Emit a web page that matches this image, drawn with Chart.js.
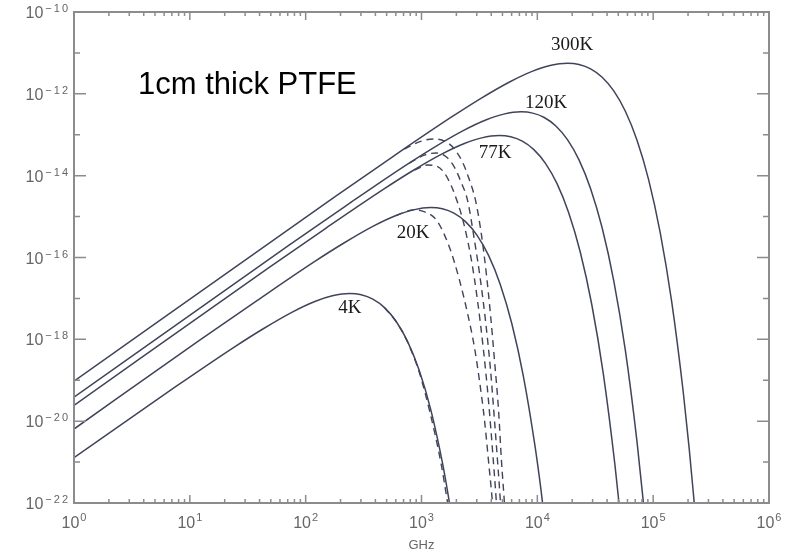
<!DOCTYPE html>
<html>
<head>
<meta charset="utf-8">
<style>
  html, body { margin: 0; padding: 0; background: #fff; }
  #wrap { width: 798px; height: 554px; }
</style>
<script src="https://cdn.jsdelivr.net/npm/chart.js@4.4.0/dist/chart.umd.min.js"></script>
</head>
<body>
<div id="wrap"><canvas id="c" width="798" height="554"></canvas></div>
<script>
// frequency in GHz, emitted power
const ghz300 = [1, 182, 575, 1820, 3236, 5754, 9120, 12880, 18200, 22900, 28840, 36300, 45700, 57540, 72440, 91200, 114800, 144500, 182000, 204200, 229100];
const pow300 = [9.55e-20, 3.16e-15, 3.02e-14, 2.72e-13, 7.66e-13, 1.95e-12, 3.59e-12, 4.94e-12, 5.62e-12, 5.24e-12, 4.09e-12, 2.55e-12, 1.18e-12, 3.76e-13, 7.45e-14, 8.13e-15, 4.18e-16, 8.32e-18, 5.01e-20, 2.29e-21, 6.76e-23];

const ghz120 = [1, 72.4, 229, 724, 1288, 2291, 3631, 5129, 7244, 9120, 11480, 14450, 18200, 22900, 28840, 36300, 45700, 57540, 72440, 81280, 91200];
const pow120 = [3.87e-20, 2.03e-16, 1.94e-15, 1.76e-14, 4.94e-14, 1.26e-13, 2.32e-13, 3.19e-13, 3.63e-13, 3.38e-13, 2.64e-13, 1.64e-13, 7.60e-14, 2.43e-14, 4.81e-15, 5.25e-16, 2.70e-17, 5.37e-19, 3.24e-21, 1.47e-22, 4.37e-24];

const ghz77 = [1, 46.8, 148, 468, 832, 1479, 2344, 3311, 4677, 5888, 7413, 9333, 11750, 14790, 18620, 23440, 29510, 37150, 46770, 52480];
const pow77 = [2.44e-20, 5.35e-17, 5.11e-16, 4.62e-15, 1.30e-14, 3.31e-14, 6.10e-14, 8.39e-14, 9.55e-14, 8.89e-14, 6.95e-14, 4.33e-14, 2.00e-14, 6.38e-15, 1.26e-15, 1.38e-16, 7.10e-18, 1.41e-19, 8.53e-22, 3.86e-23];

const ghz20 = [1, 12.0, 38.0, 120, 214, 380, 603, 851, 1202, 1514, 1905, 2399, 3020, 3802, 4786, 6026, 7586, 9550, 10720, 12020];
const pow20 = [6.43e-21, 9.29e-19, 8.87e-18, 8.04e-17, 2.26e-16, 5.75e-16, 1.06e-15, 1.46e-15, 1.66e-15, 1.55e-15, 1.21e-15, 7.52e-16, 3.48e-16, 1.11e-16, 2.20e-17, 2.40e-18, 1.23e-19, 2.45e-21, 2.25e-22, 1.48e-23];

const ghz4 = [1, 7.59, 24.0, 42.7, 75.9, 120, 170, 240, 302, 380, 479, 603, 759, 955, 1202, 1514, 1698, 1905];
const pow4 = [1.28e-21, 7.05e-20, 6.38e-19, 1.79e-18, 4.57e-18, 8.41e-18, 1.16e-17, 1.32e-17, 1.23e-17, 9.59e-18, 5.97e-18, 2.76e-18, 8.81e-19, 1.75e-19, 1.91e-20, 9.79e-22, 1.58e-22, 1.95e-23];

// dashed branches
const ghz300d = [711, 998, 1291, 1641, 1923, 2259, 2594, 2924, 3296, 3639, 3945, 4266, 4624, 4898, 5200, 5309];
const pow300d = [4.47e-14, 7.01e-14, 7.85e-14, 6.64e-14, 4.47e-14, 2.15e-14, 7.80e-15, 2.53e-15, 3.53e-16, 3.72e-17, 3.91e-18, 3.10e-19, 1.86e-20, 1.11e-21, 9.89e-23, 3.80e-23];

const ghz120d = [785, 1059, 1346, 1641, 1923, 2213, 2495, 2864, 3228, 3565, 3945, 4266, 4529, 4808, 4898];
const pow120d = [2.03e-14, 3.19e-14, 3.57e-14, 2.85e-14, 1.62e-14, 6.59e-15, 2.53e-15, 2.66e-16, 2.80e-17, 2.94e-18, 1.77e-19, 1.06e-20, 1.11e-21, 9.89e-23, 3.80e-23];

const ghz77d = [869, 1125, 1346, 1578, 1811, 2042, 2301, 2698, 3041, 3428, 3784, 4102, 4436, 4529];
const pow77d = [1.37e-14, 1.82e-14, 1.72e-14, 1.16e-14, 5.57e-15, 2.26e-15, 7.35e-16, 8.63e-17, 9.08e-18, 5.44e-19, 3.26e-20, 1.95e-21, 9.89e-23, 3.80e-23];

const ghz20d = [603, 851, 1019, 1346, 1742, 2128, 2495, 2864, 3162, 3499, 3784, 4102, 4266];
const pow20d = [1.06e-15, 1.46e-15, 1.36e-15, 8.20e-16, 1.79e-16, 2.80e-17, 4.38e-18, 6.44e-19, 1.00e-19, 1.06e-20, 1.11e-21, 9.89e-23, 2.19e-23];

const ghz4d = [479, 603, 759, 955, 1175, 1479, 1660, 1820];
const pow4d = [5.97e-18, 2.72e-18, 8.51e-19, 1.58e-19, 1.78e-20, 8.91e-22, 1.26e-22, 2.51e-23];

// axis ticks
const xTicks = [1, 10, 100, 1e3, 1e4, 1e5, 1e6];
const xTickExp = ['0', '1', '2', '3', '4', '5', '6'];
const yTicks = [1e-10, 1e-12, 1e-14, 1e-16, 1e-18, 1e-20, 1e-22];
const yTickExp = ['\u221210', '\u221212', '\u221214', '\u221216', '\u221218', '\u221220', '\u221222'];

// curve names, placed in data coordinates
const curveNames = ['300K', '120K', '77K', '20K', '4K'];
const nameGhz = [2.0e4, 1.19e4, 4.31e3, 845, 241];
const namePow = [1.56e-11, 5.97e-13, 3.58e-14, 3.98e-16, 5.85e-18];

const lineColor = '#40445a';
const pts = (xs, ys) => xs.map((v, i) => ({x: v, y: ys[i]}));
const solid = (xs, ys) => ({data: pts(xs, ys), borderColor: lineColor, borderWidth: 1.5});
const dashed = (xs, ys) => ({data: pts(xs, ys), borderColor: lineColor, borderWidth: 1.4, borderDash: [7, 5]});

const frame = {
  id: 'frame',
  afterDraw(chart) {
    const ctx = chart.ctx, a = chart.chartArea;
    const x = chart.scales.x, y = chart.scales.y;
    ctx.save();
    ctx.strokeStyle = '#8c8c8c';
    ctx.lineWidth = 2;
    ctx.strokeRect(a.left, a.top, a.right - a.left, a.bottom - a.top);

    // inward ticks
    ctx.lineWidth = 1.5;
    ctx.beginPath();
    for (let d = 1; d < 1e6; d *= 10) {
      for (let m = 1; m <= 9; m++) {
        const px = x.getPixelForValue(m * d);
        const len = m === 1 ? 8 : 4;
        ctx.moveTo(px, a.bottom); ctx.lineTo(px, a.bottom - len);
        ctx.moveTo(px, a.top); ctx.lineTo(px, a.top + len);
      }
    }
    for (let e = -22; e <= -10; e++) {
      const py = y.getPixelForValue(Math.pow(10, e));
      const len = e % 2 === 0 ? 12 : 6;
      ctx.moveTo(a.left, py); ctx.lineTo(a.left + len, py);
      ctx.moveTo(a.right, py); ctx.lineTo(a.right - len, py);
    }
    ctx.stroke();

    // tick labels: 10 with a raised exponent
    const baseFont = '16px "Liberation Sans", Arial, sans-serif';
    const expFont = '11px "Liberation Sans", Arial, sans-serif';
    ctx.fillStyle = '#666';
    ctx.textBaseline = 'alphabetic';
    ctx.textAlign = 'left';
    yTicks.forEach((v, i) => {
      const py = y.getPixelForValue(v);
      ctx.letterSpacing = '0px';
      ctx.font = baseFont; const wb = ctx.measureText('10').width;
      ctx.letterSpacing = '2px';
      ctx.font = expFont; const we = ctx.measureText(yTickExp[i]).width;
      const x0 = a.left - 4 - wb - 2 - we;
      ctx.letterSpacing = '0px';
      ctx.font = baseFont; ctx.fillText('10', x0, py + 6);
      ctx.letterSpacing = '2px';
      ctx.font = expFont; ctx.fillText(yTickExp[i], x0 + wb + 2, py);
    });
    ctx.letterSpacing = '0px';
    xTicks.forEach((v, i) => {
      const px = x.getPixelForValue(v);
      ctx.font = baseFont; const wb = ctx.measureText('10').width;
      ctx.font = expFont; const we = ctx.measureText(xTickExp[i]).width;
      const x0 = px - (wb + 1 + we) / 2;
      ctx.font = baseFont; ctx.fillText('10', x0, a.bottom + 25);
      ctx.font = expFont; ctx.fillText(xTickExp[i], x0 + wb + 1, a.bottom + 18);
    });
    ctx.font = '13px "Liberation Sans", Arial, sans-serif';
    ctx.textAlign = 'center';
    ctx.fillText('GHz', (a.left + a.right) / 2, a.bottom + 46);

    // curve names
    ctx.fillStyle = '#1a1a1a';
    ctx.font = '19px "Liberation Serif", "Times New Roman", serif';
    ctx.textBaseline = 'middle';
    curveNames.forEach((t, i) => {
      ctx.fillText(t, x.getPixelForValue(nameGhz[i]), y.getPixelForValue(namePow[i]));
    });

    // note
    ctx.fillStyle = '#000';
    ctx.font = '31px "Liberation Sans", Arial, sans-serif';
    ctx.textAlign = 'left';
    ctx.textBaseline = 'alphabetic';
    ctx.fillText('1cm thick PTFE', x.getPixelForValue(3.57), y.getPixelForValue(1e-12));
    ctx.restore();
  }
};

new Chart(document.getElementById('c'), {
  type: 'line',
  data: {
    datasets: [
      solid(ghz300, pow300),
      solid(ghz120, pow120),
      solid(ghz77, pow77),
      solid(ghz20, pow20),
      solid(ghz4, pow4),
      dashed(ghz300d, pow300d),
      dashed(ghz120d, pow120d),
      dashed(ghz77d, pow77d),
      dashed(ghz20d, pow20d),
      dashed(ghz4d, pow4d)
    ]
  },
  options: {
    responsive: false,
    animation: false,
    layout: { padding: { left: 74, right: 29, top: 12, bottom: 51 } },
    plugins: { legend: { display: false }, tooltip: { enabled: false } },
    elements: {
      point: { radius: 0 },
      line: { cubicInterpolationMode: 'monotone', fill: false }
    },
    scales: {
      x: { type: 'logarithmic', min: 1, max: 1e6, display: false },
      y: { type: 'logarithmic', min: 1e-22, max: 1e-10, display: false }
    }
  },
  plugins: [frame]
});
</script>
</body>
</html>
